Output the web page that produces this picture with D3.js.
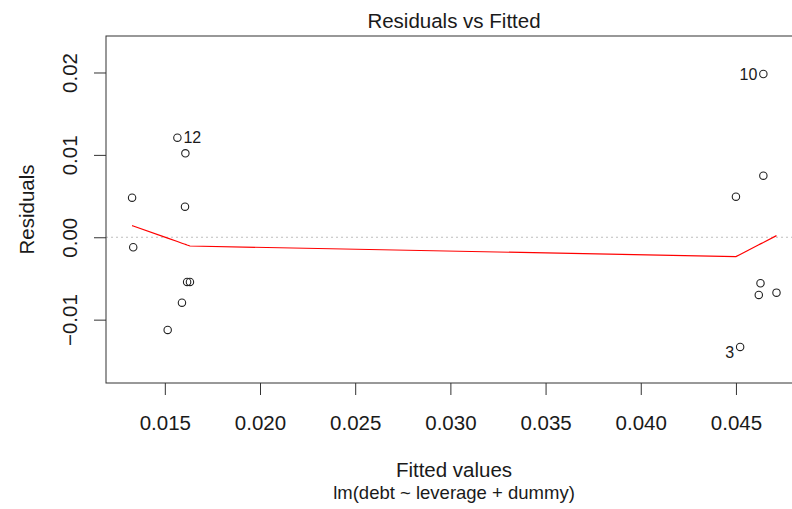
<!DOCTYPE html>
<html><head><meta charset="utf-8">
<script src="https://cdn.jsdelivr.net/npm/d3@7"></script>
<style>body{margin:0;background:#fff}svg{display:block}text{font-family:"Liberation Sans",Arial,sans-serif;fill:#1a1a1a}</style>
</head><body>
<svg id="chart" width="792" height="509"></svg>
<script>
// Observations: fitted value, residual
const fitted =    [0.01566, 0.01608, 0.01328, 0.01606, 0.01334, 0.01617, 0.01632, 0.01590, 0.01515,
                   0.04644, 0.04644, 0.04500, 0.04629, 0.04620, 0.04713, 0.04522];
const residuals = [0.01209, 0.01019, 0.00481, 0.00371, -0.00121, -0.00542, -0.00542, -0.00794, -0.01125,
                   0.01982, 0.00748, 0.00493, -0.00558, -0.00700, -0.00672, -0.01331];
const ids = ["12", "", "", "", "", "", "", "", "", "10", "", "", "", "", "", "3"];
// lowess smoother evaluated at sorted fitted values
const smoothX = [0.01328, 0.01334, 0.01515, 0.01566, 0.01590, 0.01606, 0.01608, 0.01617, 0.01632,
                 0.04500, 0.04522, 0.04620, 0.04629, 0.04644, 0.04644, 0.04713];
const smoothY = [0.00141, 0.00136, -0.00011, -0.00052, -0.00072, -0.00085, -0.00086, -0.00094, -0.00106,
                 -0.00235, -0.00209, -0.00091, -0.00080, -0.00063, -0.00063, 0.00020];
const xTicks = [0.015, 0.020, 0.025, 0.030, 0.035, 0.040, 0.045];
const yTicks = [-0.01, 0.00, 0.01, 0.02];
const title = "Residuals vs Fitted";
const xLabel = "Fitted values";
const subLabel = "lm(debt ~ leverage + dummy)";
const yLabel = "Residuals";

const svg = d3.select("#chart");
const L = 106, R = 802, T = 36, B = 383;
const FS = 20.5;
const x = d3.scaleLinear().domain([0.01191, 0.04847]).range([L, R]);
const y = d3.scaleLinear().domain([-0.01769, 0.02443]).range([B, T]);
const cx = (L + R) / 2;

// zero reference line
svg.append("line").attr("x1", L).attr("x2", R).attr("y1", y(0)).attr("y2", y(0))
  .attr("stroke", "#bebebe").attr("stroke-width", 1).attr("stroke-dasharray", "2,3");

// box
svg.append("rect").attr("x", L).attr("y", T).attr("width", R - L).attr("height", B - T)
  .attr("fill", "none").attr("stroke", "#333").attr("stroke-width", 1);

// x axis
const xAxis = d3.axisBottom(x).tickValues(xTicks).tickFormat(d3.format(".3f")).tickSize(12).tickPadding(20);
const gx = svg.append("g").attr("transform", `translate(0,${B})`).call(xAxis);
gx.select(".domain").remove();
gx.selectAll("line").attr("stroke", "#333");
gx.selectAll("text").attr("font-size", FS).attr("fill", "#1a1a1a").attr("dy", "0.71em")
  .attr("font-family", "'Liberation Sans',Arial,sans-serif");

// y axis
const yAxis = d3.axisLeft(y).tickValues(yTicks).tickFormat(d3.format(".2f")).tickSize(12).tickPadding(0);
const gy = svg.append("g").attr("transform", `translate(${L},0)`).call(yAxis);
gy.select(".domain").remove();
gy.selectAll("line").attr("stroke", "#333");
gy.selectAll("text").remove();
gy.selectAll(".tick").append("text")
  .attr("transform", "translate(-29,0) rotate(-90)")
  .attr("text-anchor", "middle").attr("font-size", FS).attr("fill", "#1a1a1a")
  .attr("font-family", "'Liberation Sans',Arial,sans-serif")
  .text(d => d3.format(".2f")(d));

// smoother
const line = d3.line().x(d => x(d[0])).y(d => y(d[1]));
svg.append("path").datum(d3.zip(smoothX, smoothY)).attr("d", line)
  .attr("fill", "none").attr("stroke", "#ff0000").attr("stroke-width", 1.2);

// points
svg.append("g").selectAll("circle").data(d3.zip(fitted, residuals)).join("circle")
  .attr("cx", d => x(d[0])).attr("cy", d => y(d[1])).attr("r", 3.7)
  .attr("fill", "none").attr("stroke", "#222").attr("stroke-width", 1.1);

// id labels
const mid = (d3.min(fitted) + d3.max(fitted)) / 2;
svg.append("g").selectAll("text").data(d3.range(fitted.length).filter(i => ids[i] !== "")).join("text")
  .attr("x", i => fitted[i] > mid ? x(fitted[i]) - 6 : x(fitted[i]) + 6)
  .attr("y", i => y(residuals[i]) + (residuals[i] < 0 ? 5 : 0))
  .attr("dy", "0.36em")
  .attr("text-anchor", i => fitted[i] > mid ? "end" : "start")
  .attr("font-size", 16).text(i => ids[i]);

// titles
svg.append("text").attr("x", cx).attr("y", 28).attr("text-anchor", "middle")
  .attr("font-size", FS).text(title);
svg.append("text").attr("x", cx).attr("y", 477).attr("text-anchor", "middle")
  .attr("font-size", FS).text(xLabel);
svg.append("text").attr("x", cx).attr("y", 498.5).attr("text-anchor", "middle")
  .attr("font-size", 18.5).text(subLabel);
svg.append("text").attr("transform", `translate(34,${(T + B) / 2}) rotate(-90)`)
  .attr("text-anchor", "middle").attr("font-size", FS).text(yLabel);
</script>
</body></html>
